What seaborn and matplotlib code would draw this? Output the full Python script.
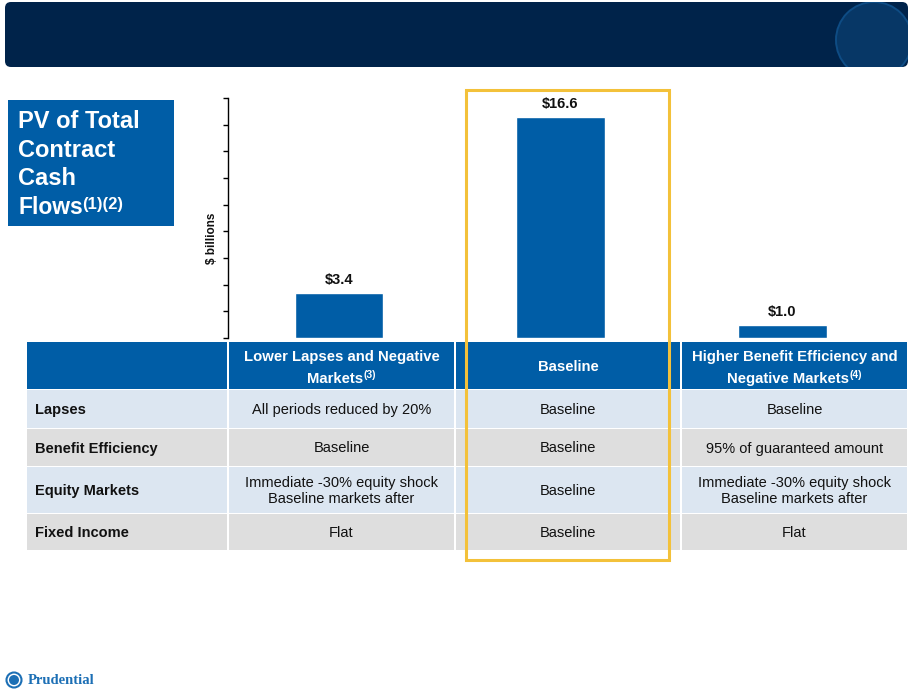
import matplotlib
matplotlib.use("Agg")
import matplotlib.pyplot as plt
import seaborn as sns
import pandas as pd
from matplotlib.patches import Rectangle, FancyBboxPatch, Circle

# ---------------- data ----------------
scenarios = ["Lower Lapses and Negative Markets", "Baseline",
             "Higher Benefit Efficiency and Negative Markets"]
pv_values = [3.4, 16.6, 1.0]
value_labels = ["$3.4", "$16.6", "$1.0"]
y_ticks = [0, 2, 4, 6, 8, 10, 12, 14, 16, 18]

# header: (line1, line2, superscript on line2)
header_labels = [("", "", ""),
                 ("Lower Lapses and Negative", "Markets", "(3)"),
                 ("Baseline", "", ""),
                 ("Higher Benefit Efficiency and", "Negative Markets", "(4)")]
row_labels = ["Lapses", "Benefit Efficiency", "Equity Markets", "Fixed Income"]
col_lower = ["All periods reduced by 20%", "Baseline",
             "Immediate -30% equity shock\nBaseline markets after", "Flat"]
col_base = ["Baseline", "Baseline", "Baseline", "Baseline"]
col_higher = ["Baseline", "95% of guaranteed amount",
              "Immediate -30% equity shock\nBaseline markets after", "Flat"]
title_lines = ["PV of Total", "Contract", "Cash", "Flows"]
title_sup = "(1)(2)"

# ---------------- style ----------------
sns.set_theme(style="white")
plt.rcParams["font.family"] = ["Liberation Sans", "DejaVu Sans"]

BLUE = "#005DA6"
NAVY = "#00234A"
LIGHT_BLUE = "#DCE6F1"
LIGHT_GRAY = "#DEDEDE"
YELLOW = "#F3C13A"

W, H = 910, 693
fig = plt.figure(figsize=(W / 100, H / 100), dpi=100)
fig.patch.set_facecolor("white")
renderer = fig.canvas.get_renderer()

# overlay axes in pixel coordinates
ov = fig.add_axes([0, 0, 1, 1], zorder=0)
ov.set_xlim(0, W)
ov.set_ylim(H, 0)
ov.axis("off")


def text_width(t):
    return t.get_window_extent(renderer=renderer).width


def main_with_sup(xc, y, main, sup, size, sup_size, color, align="center",
                  sup_dy=-5, gap=0.0):
    """Main text followed by a raised superscript, baseline-aligned at y."""
    t1 = ov.text(0, y, main, fontsize=size, fontweight="bold", color=color,
                 ha="left", va="baseline")
    t2 = ov.text(0, y + sup_dy, sup, fontsize=sup_size, fontweight="bold",
                 color=color, ha="left", va="baseline")
    w1, w2 = text_width(t1), text_width(t2)
    x0 = xc - (w1 + w2 + gap) / 2 if align == "center" else xc
    t1.set_x(x0)
    t2.set_x(x0 + w1 + gap)


# banner
banner = FancyBboxPatch((5 + 6, 2 + 6), 903 - 12, 65 - 12,
                        boxstyle="round,pad=6", fc=NAVY, ec="none")
ov.add_patch(banner)
ring2 = Circle((874, 40), 38, fc="#073766", ec="#0E4C84", lw=1.4)
ov.add_patch(ring2)
ring2.set_clip_path(banner)

# left title box
ov.add_patch(Rectangle((8, 100), 166, 126, fc=BLUE, ec="none"))
title_base = [128, 157, 185, 214]
for i, line in enumerate(title_lines):
    if i < len(title_lines) - 1:
        ov.text(18, title_base[i], line, color="white", fontsize=17, fontweight="bold",
                ha="left", va="baseline")
    else:
        main_with_sup(18, title_base[i], line, title_sup, 16.5, 12, "white",
                      align="left", sup_dy=-5.5, gap=-1)

# table
col_edges = [(27, 227), (229, 454), (456, 680), (682, 907)]
row_edges = [(342, 389), (390, 428), (429, 466), (467, 513), (514, 550)]
row_colors = [LIGHT_BLUE, LIGHT_GRAY, LIGHT_BLUE, LIGHT_GRAY]
columns = [row_labels, col_lower, col_base, col_higher]

for ci, (x0, x1) in enumerate(col_edges):
    y0, y1 = row_edges[0]
    xc = (x0 + x1) / 2
    ov.add_patch(Rectangle((x0, y0), x1 - x0, y1 - y0, fc=BLUE, ec="none"))
    l1, l2, sup = header_labels[ci]
    if l1 and not l2:
        ov.text(xc, 371, l1, color="white", fontsize=10.7, fontweight="bold",
                ha="center", va="baseline")
    elif l1:
        ov.text(xc, 361, l1, color="white", fontsize=10.7, fontweight="bold",
                ha="center", va="baseline")
        main_with_sup(xc, 383, l2, sup, 10.7, 7.5, "white", sup_dy=-5, gap=0.0)
    for ri in range(4):
        y0, y1 = row_edges[ri + 1]
        ov.add_patch(Rectangle((x0, y0), x1 - x0, y1 - y0, fc=row_colors[ri], ec="none"))
        txt = columns[ci][ri]
        if ci == 0:
            ov.text(x0 + 8, (y0 + y1) / 2 + 1, txt, fontsize=10.5, fontweight="bold",
                    ha="left", va="center", color="#111111")
        else:
            ov.text(xc, (y0 + y1) / 2 + 1, txt, fontsize=10.5,
                    ha="center", va="center", color="#111111", linespacing=1.25)

# highlight rectangle
ov.add_patch(Rectangle((466, 90), 203, 470, fc="none", ec=YELLOW, lw=2.2, zorder=5))

# bottom logo
ov.add_patch(Circle((14, 680), 7.5, fc="white", ec="#1C6FB5", lw=1.5))
ov.add_patch(Circle((14, 680), 5, fc="#1C6FB5", ec="none"))
ov.text(28, 681, "Prudential", fontsize=10.5, fontweight="bold",
        family=["Liberation Serif", "DejaVu Serif"], color="#1C6FB5",
        ha="left", va="center")

# "$ billions" axis label
ov.text(212, 238, "$ billions", rotation=90, fontsize=8.5, fontweight="bold",
        ha="center", va="center", color="#111111")

# bar chart
ax_l, ax_r, ax_t, ax_b = 228, 893, 98, 338
ax = fig.add_axes([ax_l / W, 1 - ax_b / H, (ax_r - ax_l) / W, (ax_b - ax_t) / H],
                  zorder=2)
ax.patch.set_alpha(0)
df = pd.DataFrame({"scenario": scenarios, "pv": pv_values})
sns.barplot(data=df, x="scenario", y="pv", color=BLUE, saturation=1,
            width=0.4, ax=ax)
ax.set_xlim(-0.5, 2.5)
ax.set_ylim(0, 18)
ax.set_yticks(y_ticks)
ax.set_yticklabels([])
ax.set_xticks([])
ax.set_xlabel("")
ax.set_ylabel("")
for s in ["top", "right", "bottom"]:
    ax.spines[s].set_visible(False)
ax.spines["left"].set_color("black")
ax.spines["left"].set_linewidth(1.0)
ax.tick_params(axis="y", direction="out", length=3.5, width=1.0, color="black", left=True)
for i, (v, lab) in enumerate(zip(pv_values, value_labels)):
    ax.annotate(lab, (i, v), xytext=(0, 4), textcoords="offset points",
                ha="center", va="bottom", fontsize=10.5, fontweight="bold",
                color="#111111")

fig.savefig("out.png", dpi=100, facecolor="white")
